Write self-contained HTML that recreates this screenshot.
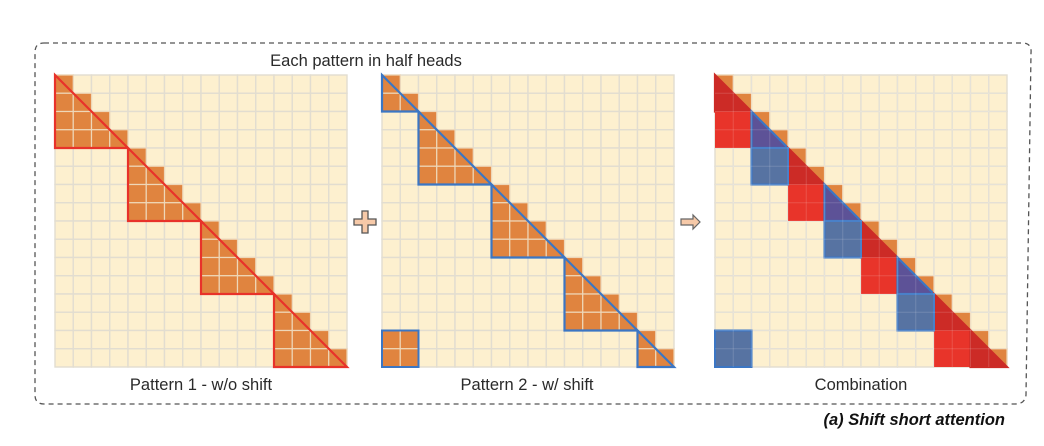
<!DOCTYPE html>
<html><head><meta charset="utf-8"><style>
body{margin:0;background:#fff;width:1044px;height:446px;overflow:hidden}
svg{display:block}
text{font-family:"Liberation Sans","DejaVu Sans",sans-serif}
</style></head><body>
<svg id="s" width="1044" height="446" viewBox="0 0 1044 446">
<path d="M44,43 L1022,43 Q1032,43 1031,53 L1026,395 Q1025,404 1015,404 L44,404 Q35,404 35,395 L35,52 Q35,43 44,43 Z" fill="none" stroke="#555" stroke-width="1.3" stroke-dasharray="5,4"/>
<text x="366" y="66" font-size="16.5" text-anchor="middle" fill="#2a2a2a">Each pattern in half heads</text>
<text x="201" y="390" font-size="16.5" text-anchor="middle" fill="#2a2a2a">Pattern 1 - w/o shift</text>
<text x="527" y="390" font-size="16.5" text-anchor="middle" fill="#2a2a2a">Pattern 2 - w/ shift</text>
<text x="861" y="390" font-size="16.5" text-anchor="middle" fill="#2a2a2a">Combination</text>
<text x="1005" y="425" font-size="16.5" font-weight="bold" font-style="italic" text-anchor="end" fill="#111">(a) Shift short attention</text>
<path d="M362,211h6v8h8v6h-8v8h-6v-8h-8v-6h8z" fill="#f6c9a8" stroke="#555" stroke-width="1.3"/>
<path d="M681,219h12v-4l7,7l-7,7v-4h-12z" fill="#f6c9a8" stroke="#666" stroke-width="1.2"/>
</svg>
<script>
const N = 16;
const p1Blocks = [[0,4],[4,4],[8,4],[12,4]];
const p2Blocks = [[0,2],[2,4],[6,4],[10,4],[14,2]];
const p2Extra = [[14,0,2]];
const grids = [[55,75],[382,75],[715,75]];
const S = 292/16;
const svg = document.getElementById('s');
const NS = 'http://www.w3.org/2000/svg';
function mk(tag, attrs){const e=document.createElementNS(NS,tag);for(const k in attrs)e.setAttribute(k,attrs[k]);svg.appendChild(e);return e;}
function X(g,c){return grids[g][0]+c*S}
function Y(g,r){return grids[g][1]+r*S}
function cells(g){
  for(let r=0;r<N;r++)for(let c=0;c<N;c++){
    const e=mk('rect',{x:X(g,c),y:Y(g,r),width:S,height:S,fill:'#fdf0cf',stroke:'#e2ddd0','stroke-width':1.4});
    
    
  }
}
function orange(g,r,c){
  const e=mk('rect',{x:X(g,c),y:Y(g,r),width:S,height:S,fill:'#e0843f',stroke:'#eed7b8','stroke-width':1.2});
  
  
}
function tri(g,k,n,col,fill){
  const e=mk('path',{d:`M${X(g,k)},${Y(g,k)}L${X(g,k)},${Y(g,k+n)}L${X(g,k+n)},${Y(g,k+n)}Z`,fill:fill,stroke:col,'stroke-width':2.2,'stroke-linejoin':'miter'});
  
  
}
function sq(g,r,c,n,fill,stroke){
  const e=mk('rect',{x:X(g,c),y:Y(g,r),width:n*S,height:n*S,fill:fill,stroke:stroke||'none','stroke-width':2});
  
  
}
cells(0);
p1Blocks.forEach(([k,n])=>{for(let r=0;r<n;r++)for(let c=0;c<=r;c++)orange(0,k+r,k+c);});
p1Blocks.forEach(([k,n])=>tri(0,k,n,'#e8322a','none'));
cells(1);
p2Blocks.forEach(([k,n])=>{for(let r=0;r<n;r++)for(let c=0;c<=r;c++)orange(1,k+r,k+c);});
p2Extra.forEach(([r0,c0,n])=>{for(let r=0;r<n;r++)for(let c=0;c<n;c++)orange(1,r0+r,c0+c);});
p2Blocks.forEach(([k,n])=>tri(1,k,n,'#3b76c4','none'));
p2Extra.forEach(([r0,c0,n])=>sq(1,r0,c0,n,'none','#3b76c4'));
cells(2);
for(let i=0;i<N;i++)orange(2,i,i);
p1Blocks.forEach(([k,n])=>{
  tri(2,k,2,'#cc2b26','#cc2b26');
  sq(2,k+2,k,2,'#e8342a');
  if(k+2<N-2)tri(2,k+2,2,'#3b76c4','#5d5297');else tri(2,k+2,2,'#cc2b26','#cc2b26');
});
p2Blocks.forEach(([k,n])=>{ if(n===4) sq(2,k+2,k,2,'#5773a2','#3b76c4'); });
p2Extra.forEach(([r0,c0,n])=>sq(2,r0,c0,n,'#5773a2','#3b76c4'));
// faint grid overlay on combination
for(let i=1;i<N;i++){
  const v=mk('line',{x1:X(2,i),y1:Y(2,0),x2:X(2,i),y2:Y(2,N),stroke:'#ffffff','stroke-opacity':0.15,'stroke-width':1});
  
  
  const h=mk('line',{x1:X(2,0),y1:Y(2,i),x2:X(2,N),y2:Y(2,i),stroke:'#ffffff','stroke-opacity':0.15,'stroke-width':1});
  
  
}
</script>
</body></html>
